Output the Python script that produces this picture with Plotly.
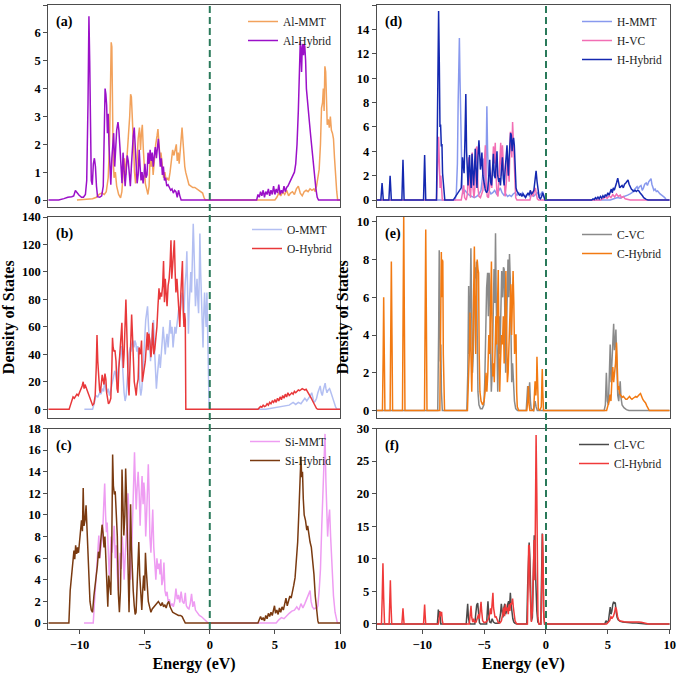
import plotly.graph_objects as go

# ---------------- data (energy eV, DOS) ----------------
AL_MMT = [(-10.2,0),(-9.5,0.02),(-9.0,0.05),(-8.7,0.1),(-8.5,0.2),(-8.3,0.25),(-8.1,0.2),(-7.95,0.3),(-7.8,0.8),(-7.7,2.0),(-7.62,5.0),(-7.57,5.66),(-7.52,5.5),(-7.47,3.0),(-7.42,1.5),(-7.35,0.8),(-7.25,1.0),(-7.15,0.5),(-7.0,0.2),(-6.85,0.08),(-6.75,0.3),(-6.65,1.0),(-6.55,1.5),(-6.45,0.9),(-6.35,1.8),(-6.25,2.3),(-6.15,3.0),(-6.08,3.8),(-6.02,3.7),(-5.96,3.2),(-5.9,2.5),(-5.84,1.8),(-5.78,1.0),(-5.7,0.6),(-5.6,1.2),(-5.5,2.2),(-5.4,2.6),(-5.32,1.8),(-5.25,2.4),(-5.18,2.7),(-5.1,1.8),(-5.02,1.0),(-4.95,0.6),(-4.85,0.4),(-4.75,0.2),(-4.66,0.5),(-4.58,1.6),(-4.5,1.2),(-4.42,1.5),(-4.35,0.9),(-4.25,1.6),(-4.15,2.0),(-4.05,2.3),(-3.98,2.55),(-3.9,2.0),(-3.82,1.5),(-3.75,1.7),(-3.65,1.2),(-3.55,0.8),(-3.45,1.0),(-3.35,0.7),(-3.25,0.8),(-3.15,0.7),(-3.05,1.0),(-2.95,1.4),(-2.85,1.8),(-2.75,1.6),(-2.65,1.9),(-2.57,2.0),(-2.5,1.4),(-2.42,1.7),(-2.35,1.3),(-2.25,2.0),(-2.18,2.4),(-2.13,2.6),(-2.07,2.2),(-2.0,1.5),(-1.92,1.2),(-1.85,1.0),(-1.75,0.8),(-1.6,0.55),(-1.45,0.5),(-1.3,0.45),(-1.15,0.45),(-1.0,0.4),(-0.85,0.35),(-0.7,0.3),(-0.55,0.25),(-0.45,0.1),(-0.35,0.0),(5.0,0.0),(5.15,0.1),(5.3,0.25),(5.45,0.15),(5.6,0.3),(5.75,0.2),(5.9,0.35),(6.05,0.15),(6.2,0.25),(6.35,0.3),(6.5,0.2),(6.65,0.4),(6.8,0.5),(6.95,0.25),(7.1,0.15),(7.25,0.3),(7.4,0.35),(7.55,0.3),(7.7,0.4),(7.85,0.35),(8.0,0.4),(8.1,0.3),(8.2,0.5),(8.3,0.9),(8.4,1.1),(8.5,2.0),(8.58,3.3),(8.66,3.5),(8.72,4.0),(8.78,3.2),(8.84,4.8),(8.9,4.6),(8.96,3.3),(9.02,2.7),(9.1,2.9),(9.18,2.6),(9.26,3.0),(9.34,2.5),(9.42,2.4),(9.5,2.2),(9.58,1.5),(9.66,0.8),(9.75,0.3),(9.82,0.0),(10,0)]

AL_HYBRID = [(-12.4,0),(-11.6,0),(-11.2,0.05),(-10.9,0.1),(-10.6,0.12),(-10.45,0.15),(-10.32,0.34),(-10.2,0.25),(-10.05,0.18),(-9.85,0.1),(-9.7,0.1),(-9.55,0.2),(-9.45,0.7),(-9.35,3.5),(-9.28,6.6),(-9.22,5.0),(-9.16,1.5),(-9.1,0.7),(-9.02,0.55),(-8.94,1.3),(-8.86,1.5),(-8.78,1.2),(-8.7,0.5),(-8.62,0.12),(-8.45,0.1),(-8.3,0.15),(-8.18,0.5),(-8.1,2.5),(-8.04,4.0),(-7.98,3.8),(-7.92,3.4),(-7.86,2.4),(-7.8,3.1),(-7.74,2.0),(-7.68,1.2),(-7.6,0.55),(-7.52,1.5),(-7.45,2.2),(-7.38,2.4),(-7.3,1.2),(-7.22,2.0),(-7.15,2.5),(-7.05,2.8),(-6.98,2.5),(-6.9,1.9),(-6.82,1.0),(-6.74,0.6),(-6.66,1.7),(-6.58,1.2),(-6.5,0.5),(-6.42,1.0),(-6.34,1.6),(-6.26,1.4),(-6.18,0.7),(-6.1,0.5),(-6.02,1.2),(-5.95,2.0),(-5.88,2.3),(-5.8,2.6),(-5.72,2.0),(-5.65,1.4),(-5.58,0.6),(-5.5,0.9),(-5.42,1.8),(-5.35,1.2),(-5.28,0.7),(-5.2,1.0),(-5.12,0.6),(-5.05,0.9),(-4.98,1.3),(-4.9,0.8),(-4.82,0.9),(-4.74,1.7),(-4.66,1.3),(-4.58,1.8),(-4.5,1.4),(-4.42,1.7),(-4.34,1.2),(-4.26,1.6),(-4.18,1.9),(-4.1,1.5),(-4.02,2.0),(-3.95,2.2),(-3.88,1.8),(-3.8,1.2),(-3.72,1.5),(-3.64,0.9),(-3.56,1.2),(-3.48,0.7),(-3.4,0.8),(-3.3,0.5),(-3.2,0.55),(-3.1,0.45),(-3.0,0.35),(-2.9,0.4),(-2.8,0.25),(-2.7,0.35),(-2.6,0.3),(-2.5,0.1),(-2.4,0.35),(-2.3,0.15),(-2.2,0.0),(3.6,0.0),(3.7,0.2),(3.8,0.1),(3.9,0.3),(4.0,0.15),(4.1,0.35),(4.2,0.1),(4.3,0.3),(4.4,0.2),(4.5,0.4),(4.6,0.15),(4.7,0.35),(4.8,0.2),(4.9,0.5),(5.0,0.2),(5.1,0.4),(5.2,0.25),(5.3,0.55),(5.4,0.2),(5.5,0.35),(5.6,0.25),(5.7,0.5),(5.8,0.3),(5.9,0.45),(6.0,0.5),(6.1,0.6),(6.2,0.7),(6.3,0.8),(6.4,0.85),(6.5,1.0),(6.6,1.3),(6.7,2.0),(6.8,3.2),(6.88,4.2),(6.95,5.7),(7.0,5.3),(7.05,4.6),(7.1,5.5),(7.15,5.6),(7.2,5.2),(7.25,5.6),(7.3,5.5),(7.36,5.0),(7.42,4.0),(7.5,3.5),(7.58,3.3),(7.65,2.8),(7.75,2.3),(7.85,1.8),(7.95,1.2),(8.05,0.8),(8.15,0.4),(8.25,0.1),(8.35,0.0),(10,0)]

O_MMT = [(-9.63,0),(-9.0,0),(-8.85,5),(-8.75,10),(-8.6,9),(-8.45,12),(-8.35,11),(-8.25,15),(-8.15,13),(-8.08,20),(-8.0,16),(-7.9,12),(-7.8,15),(-7.7,10),(-7.6,14),(-7.5,18),(-7.4,22),(-7.3,28),(-7.22,25),(-7.15,20),(-7.05,28),(-6.95,35),(-6.88,40),(-6.8,46),(-6.72,35),(-6.65,20),(-6.58,12),(-6.5,6),(-6.42,10),(-6.35,20),(-6.28,32),(-6.2,40),(-6.12,45),(-6.05,42),(-5.98,48),(-5.9,50),(-5.82,45),(-5.75,50),(-5.68,48),(-5.6,42),(-5.52,46),(-5.45,30),(-5.38,18),(-5.3,10),(-5.22,15),(-5.15,25),(-5.08,40),(-5.0,55),(-4.92,65),(-4.85,70),(-4.78,75),(-4.7,60),(-4.62,45),(-4.55,35),(-4.48,50),(-4.4,60),(-4.32,65),(-4.25,45),(-4.18,25),(-4.1,15),(-4.02,25),(-3.95,35),(-3.88,40),(-3.8,30),(-3.72,38),(-3.65,50),(-3.58,60),(-3.5,45),(-3.42,40),(-3.35,50),(-3.28,55),(-3.2,45),(-3.12,55),(-3.05,65),(-2.98,55),(-2.9,60),(-2.82,45),(-2.75,55),(-2.68,60),(-2.6,55),(-2.52,62),(-2.44,70),(-2.36,75),(-2.28,70),(-2.2,80),(-2.12,85),(-2.05,80),(-1.98,70),(-1.9,90),(-1.82,100),(-1.76,115),(-1.7,90),(-1.64,55),(-1.58,75),(-1.52,95),(-1.46,100),(-1.4,85),(-1.34,110),(-1.27,135),(-1.22,120),(-1.16,90),(-1.1,75),(-1.04,85),(-0.98,95),(-0.92,80),(-0.86,70),(-0.8,100),(-0.76,128),(-0.7,100),(-0.64,80),(-0.58,60),(-0.52,45),(-0.46,70),(-0.4,85),(-0.34,70),(-0.28,60),(-0.22,85),(-0.16,60),(-0.1,45),(-0.05,0),(4.3,0),(4.6,0.5),(5.0,1),(5.4,1.5),(5.8,2),(6.1,3),(6.4,5),(6.6,3.5),(6.8,5),(7.0,4),(7.15,6),(7.3,8),(7.45,6),(7.6,8),(7.72,10),(7.83,12),(7.92,8),(8.0,5),(8.1,6),(8.2,8),(8.3,12),(8.4,15),(8.48,17),(8.56,12),(8.64,10),(8.72,14),(8.8,17),(8.86,19),(8.92,15),(9.0,12),(9.1,14),(9.2,15),(9.28,13),(9.36,10),(9.45,8),(9.55,5),(9.65,2),(9.76,0),(10,0)]

O_HYBRID = [(-12.4,0),(-10.8,0),(-10.7,3),(-10.6,7),(-10.5,9),(-10.4,8),(-10.3,10),(-10.2,11),(-10.1,10),(-10.0,12),(-9.9,14),(-9.8,17),(-9.72,20),(-9.65,15),(-9.58,18),(-9.5,16),(-9.4,12),(-9.3,10),(-9.2,7),(-9.1,5),(-9.0,3),(-8.9,4),(-8.8,10),(-8.72,30),(-8.66,54),(-8.6,35),(-8.54,20),(-8.46,14),(-8.4,12),(-8.32,20),(-8.26,25),(-8.2,22),(-8.12,18),(-8.05,26),(-7.98,22),(-7.92,12),(-7.85,6),(-7.78,4),(-7.7,5),(-7.6,8),(-7.52,30),(-7.47,52),(-7.42,45),(-7.35,42),(-7.28,43),(-7.2,35),(-7.12,15),(-7.05,12),(-6.98,30),(-6.9,45),(-6.82,55),(-6.75,63),(-6.7,45),(-6.64,30),(-6.58,40),(-6.5,65),(-6.44,80),(-6.38,60),(-6.32,25),(-6.26,18),(-6.2,10),(-6.14,25),(-6.06,45),(-6.0,69),(-5.94,55),(-5.88,30),(-5.8,20),(-5.72,15),(-5.65,10),(-5.58,18),(-5.5,22),(-5.43,45),(-5.36,40),(-5.3,42),(-5.24,50),(-5.18,20),(-5.1,25),(-5.02,30),(-4.95,35),(-4.88,45),(-4.8,56),(-4.74,43),(-4.68,55),(-4.6,50),(-4.52,38),(-4.45,45),(-4.38,63),(-4.3,40),(-4.22,44),(-4.14,52),(-4.06,60),(-3.98,75),(-3.9,88),(-3.84,80),(-3.78,85),(-3.7,82),(-3.62,90),(-3.55,108),(-3.48,78),(-3.42,95),(-3.35,85),(-3.28,75),(-3.2,90),(-3.12,95),(-3.05,105),(-2.98,123),(-2.92,95),(-2.85,105),(-2.78,110),(-2.72,123),(-2.66,100),(-2.6,85),(-2.52,95),(-2.45,80),(-2.38,70),(-2.3,60),(-2.22,85),(-2.15,100),(-2.1,108),(-2.04,72),(-1.98,60),(-1.93,70),(-1.88,65),(-1.84,0),(3.7,0),(3.8,1),(3.9,2),(4.0,1.5),(4.1,3),(4.2,2),(4.3,2.5),(4.4,4),(4.5,3),(4.6,5),(4.7,4),(4.8,6),(4.9,5),(5.0,7),(5.1,5),(5.2,8),(5.3,6),(5.4,9),(5.5,7),(5.6,10),(5.7,8),(5.8,11),(5.9,9),(6.0,12),(6.1,10),(6.2,11),(6.3,12),(6.4,11),(6.5,13),(6.6,12),(6.7,13.5),(6.8,14),(6.9,13.5),(7.0,14.5),(7.1,15),(7.2,14.5),(7.3,14),(7.4,14.5),(7.5,13),(7.6,12),(7.7,10),(7.8,8),(7.9,6),(8.0,4),(8.1,2),(8.2,0.5),(8.3,0),(10,0)]

SI_MMT = [(-9.66,0),(-8.95,0),(-8.85,2.0),(-8.75,4.0),(-8.68,5.5),(-8.6,6.5),(-8.52,8.1),(-8.45,6.0),(-8.38,7.0),(-8.3,7.6),(-8.22,8.5),(-8.14,11.0),(-8.07,12.9),(-8.0,10.0),(-7.94,8.4),(-7.88,9.3),(-7.8,6.0),(-7.72,4.4),(-7.65,6.0),(-7.58,8.0),(-7.5,6.5),(-7.42,7.5),(-7.34,9.0),(-7.26,6.0),(-7.18,7.2),(-7.1,4.5),(-7.02,3.0),(-6.95,5.5),(-6.88,6.5),(-6.8,5.0),(-6.72,8.0),(-6.65,6.5),(-6.58,4.0),(-6.5,6.0),(-6.42,7.5),(-6.35,9.5),(-6.28,12.0),(-6.22,10.5),(-6.15,6.0),(-6.08,4.0),(-6.0,6.5),(-5.92,10.0),(-5.85,13.0),(-5.78,15.8),(-5.72,13.0),(-5.65,10.5),(-5.58,12.5),(-5.5,14.0),(-5.42,12.0),(-5.35,9.0),(-5.28,11.5),(-5.2,13.6),(-5.12,11.0),(-5.06,13.0),(-5.0,12.0),(-4.92,8.0),(-4.85,10.0),(-4.78,12.5),(-4.72,14.7),(-4.66,12.0),(-4.6,8.0),(-4.52,6.5),(-4.45,8.0),(-4.38,10.5),(-4.3,7.0),(-4.22,5.0),(-4.14,4.0),(-4.06,6.0),(-3.98,5.0),(-3.9,5.5),(-3.82,4.5),(-3.76,5.9),(-3.68,3.5),(-3.6,4.0),(-3.52,5.6),(-3.44,3.0),(-3.36,2.5),(-3.28,2.9),(-3.2,2.0),(-3.1,2.2),(-3.0,1.6),(-2.9,1.8),(-2.8,1.5),(-2.7,2.0),(-2.6,3.2),(-2.5,2.2),(-2.4,2.6),(-2.3,1.9),(-2.2,2.9),(-2.1,2.0),(-1.98,1.8),(-1.88,2.8),(-1.8,1.6),(-1.7,1.4),(-1.6,1.3),(-1.5,1.8),(-1.4,2.7),(-1.3,1.5),(-1.2,2.0),(-1.1,1.2),(-1.0,1.0),(-0.9,0.9),(-0.8,0.7),(-0.65,0.6),(-0.5,0.4),(-0.35,0.25),(-0.2,0.1),(-0.1,0.0),(5.1,0),(5.3,0.3),(5.5,0.5),(5.7,0.4),(5.9,0.7),(6.1,0.9),(6.3,1.1),(6.5,1.2),(6.68,1.5),(6.85,1.2),(7.0,1.8),(7.15,1.4),(7.3,1.8),(7.45,2.2),(7.6,2.6),(7.7,3.0),(7.78,2.0),(7.88,1.5),(8.0,1.3),(8.1,1.4),(8.2,1.3),(8.3,1.6),(8.4,3.0),(8.5,5.0),(8.6,9.0),(8.7,12.0),(8.78,14.5),(8.85,17.5),(8.92,13.0),(8.98,9.0),(9.05,8.0),(9.12,9.5),(9.2,10.5),(9.28,8.0),(9.38,5.0),(9.5,2.5),(9.62,1.0),(9.72,0.2),(9.8,0),(10,0)]

SI_HYBRID = [(-12.4,0),(-10.82,0),(-10.72,3.0),(-10.63,4.3),(-10.55,4.7),(-10.48,5.8),(-10.43,6.7),(-10.37,5.9),(-10.3,7.2),(-10.22,6.4),(-10.15,7.0),(-10.08,6.5),(-10.0,7.6),(-9.92,8.2),(-9.85,9.5),(-9.78,8.5),(-9.72,12.5),(-9.66,9.0),(-9.58,9.5),(-9.5,10.9),(-9.44,9.0),(-9.36,6.0),(-9.28,3.5),(-9.2,2.0),(-9.1,1.2),(-9.0,1.0),(-8.9,2.5),(-8.82,3.2),(-8.72,4.5),(-8.63,5.3),(-8.55,6.6),(-8.47,6.0),(-8.4,7.2),(-8.33,8.0),(-8.27,9.1),(-8.2,8.4),(-8.12,7.0),(-8.05,8.0),(-7.98,5.9),(-7.9,3.0),(-7.83,1.5),(-7.76,4.4),(-7.68,3.5),(-7.6,2.6),(-7.52,8.0),(-7.46,15.6),(-7.4,12.7),(-7.33,11.9),(-7.26,12.2),(-7.18,10.2),(-7.1,8.0),(-7.02,2.7),(-6.94,1.0),(-6.86,3.0),(-6.8,6.6),(-6.74,14.2),(-6.68,10.0),(-6.6,8.1),(-6.52,10.0),(-6.46,14.3),(-6.4,12.0),(-6.34,7.8),(-6.27,3.0),(-6.2,1.0),(-6.14,5.0),(-6.08,11.0),(-6.02,7.2),(-5.95,4.0),(-5.88,3.0),(-5.8,1.6),(-5.73,0.8),(-5.66,1.0),(-5.6,3.0),(-5.52,6.0),(-5.45,7.5),(-5.38,4.5),(-5.3,2.5),(-5.22,1.2),(-5.15,3.0),(-5.08,4.4),(-5.0,3.0),(-4.94,6.5),(-4.88,5.0),(-4.8,2.8),(-4.72,2.0),(-4.62,1.5),(-4.52,1.0),(-4.42,1.3),(-4.3,1.5),(-4.18,1.6),(-4.05,1.8),(-3.95,2.0),(-3.85,1.8),(-3.75,1.6),(-3.65,1.9),(-3.55,1.5),(-3.45,1.7),(-3.35,1.4),(-3.25,1.8),(-3.15,2.0),(-3.05,1.5),(-2.95,1.2),(-2.85,1.0),(-2.7,0.9),(-2.55,0.8),(-2.4,0.7),(-2.25,0.7),(-2.12,0.6),(-2.0,0.3),(-1.88,0.0),(3.7,0),(3.8,0.3),(3.9,0.6),(4.0,0.3),(4.1,0.5),(4.2,0.2),(4.3,0.7),(4.4,0.4),(4.5,0.9),(4.6,0.6),(4.7,1.0),(4.8,0.7),(4.9,1.2),(4.97,1.6),(5.05,0.9),(5.15,1.2),(5.25,0.8),(5.35,1.4),(5.45,1.0),(5.55,1.5),(5.65,1.2),(5.75,1.8),(5.85,2.3),(5.95,1.6),(6.05,2.0),(6.15,2.5),(6.25,2.3),(6.35,2.8),(6.45,3.5),(6.55,4.2),(6.65,5.5),(6.75,7.5),(6.85,10.5),(6.93,13.5),(7.0,15.4),(7.06,13.5),(7.12,14.0),(7.18,11.5),(7.25,10.0),(7.35,9.5),(7.45,8.6),(7.52,9.0),(7.6,8.2),(7.7,7.5),(7.8,7.0),(7.9,6.0),(8.0,4.5),(8.1,2.5),(8.2,1.0),(8.3,0.2),(8.35,0),(10,0)]

H_MMT = [(-13.66,0),(-7.35,0),(-7.25,0.5),(-7.16,3.0),(-7.1,8.0),(-7.05,12.4),(-7.0,13.3),(-6.95,10.0),(-6.9,6.9),(-6.84,3.3),(-6.78,1.0),(-6.7,0.5),(-6.55,0.8),(-6.4,0.6),(-6.2,0.4),(-6.0,0.3),(-5.8,0.2),(-5.6,0.3),(-5.4,0.5),(-5.25,0.8),(-5.12,2.0),(-5.04,3.4),(-4.98,2.0),(-4.9,1.0),(-4.84,3.0),(-4.78,7.7),(-4.72,4.0),(-4.66,1.5),(-4.6,0.8),(-4.45,0.5),(-4.3,0.6),(-4.15,0.8),(-4.0,0.5),(-3.85,0.7),(-3.7,1.0),(-3.55,0.6),(-3.4,0.4),(-3.25,0.5),(-3.1,0.3),(-2.95,0.4),(-2.8,0.3),(-2.65,0.5),(-2.5,0.6),(-2.35,0.4),(-2.2,0.6),(-2.05,0.4),(-1.9,0.6),(-1.75,0.3),(-1.6,0.4),(-1.45,0.5),(-1.3,0.3),(-1.15,0.4),(-1.0,0.3),(-0.85,0.5),(-0.7,0.6),(-0.55,0.3),(-0.4,0.5),(-0.28,0.7),(-0.18,0.4),(-0.08,0),(5.2,0),(5.4,0.1),(5.6,0.15),(5.8,0.2),(6.0,0.15),(6.2,0.25),(6.4,0.3),(6.6,0.4),(6.8,0.5),(6.95,0.6),(7.1,0.8),(7.25,1.0),(7.36,1.1),(7.45,0.9),(7.55,1.1),(7.68,1.2),(7.78,0.8),(7.88,1.0),(7.98,1.3),(8.1,1.4),(8.2,1.2),(8.3,1.5),(8.4,1.6),(8.49,1.75),(8.56,1.3),(8.64,1.0),(8.72,0.8),(8.82,0.9),(8.92,0.7),(9.02,0.75),(9.12,0.6),(9.22,0.5),(9.35,0.4),(9.48,0.3),(9.6,0.2),(9.7,0.05),(9.8,0),(10,0)]

H_VC = [(-13.66,0),(-8.85,0),(-8.75,3.0),(-8.68,5.2),(-8.62,3.0),(-8.56,1.0),(-8.5,2.0),(-8.44,0.5),(-8.38,0),(-6.85,0),(-6.75,0.5),(-6.65,1.2),(-6.58,0.2),(-6.45,0),(-6.35,0.5),(-6.25,3.5),(-6.18,1.0),(-6.1,0.2),(-6.02,2.0),(-5.96,3.9),(-5.9,1.0),(-5.82,0.2),(-5.75,1.0),(-5.66,4.2),(-5.58,4.4),(-5.5,1.0),(-5.42,0.3),(-5.3,0.2),(-5.2,0.5),(-5.1,0.8),(-5.02,2.5),(-4.95,4.4),(-4.9,4.5),(-4.84,1.5),(-4.75,0.3),(-4.65,0.2),(-4.55,1.0),(-4.45,2.0),(-4.38,1.0),(-4.3,2.5),(-4.25,4.4),(-4.18,3.0),(-4.1,4.7),(-4.04,2.0),(-3.96,0.5),(-3.88,0.3),(-3.8,2.5),(-3.72,4.6),(-3.66,4.7),(-3.6,2.0),(-3.52,4.5),(-3.45,3.0),(-3.38,1.0),(-3.3,0.3),(-3.2,1.5),(-3.12,3.5),(-3.05,2.5),(-2.98,1.5),(-2.92,4.0),(-2.88,5.6),(-2.82,5.2),(-2.76,3.5),(-2.7,6.4),(-2.64,5.0),(-2.58,3.0),(-2.52,1.0),(-2.45,0.2),(-2.35,0.0),(-1.3,0),(-1.2,0.4),(-1.12,0.7),(-1.05,0.3),(-0.95,0.6),(-0.86,1.0),(-0.78,0.5),(-0.7,0.1),(-0.6,0),(4.4,0),(4.6,0.1),(4.8,0.25),(4.95,0.15),(5.1,0.35),(5.25,0.2),(5.4,0.45),(5.55,0.25),(5.7,0.5),(5.85,0.3),(6.0,0.4),(6.1,0.2),(6.25,0.3),(6.4,0.1),(6.6,0.05),(6.8,0),(10,0)]

H_HYBRID = [(-13.66,0),(-13.35,0),(-13.25,1.4),(-13.15,0),(-12.7,0),(-12.6,2.0),(-12.5,0),(-11.65,0),(-11.56,3.3),(-11.47,0),(-9.9,0),(-9.81,3.7),(-9.72,0),(-8.85,0),(-8.78,6.0),(-8.68,15.5),(-8.62,11.0),(-8.57,6.0),(-8.52,6.2),(-8.46,4.4),(-8.41,4.6),(-8.36,2.2),(-8.3,1.6),(-8.25,0.5),(-8.18,0),(-7.5,0),(-7.3,0.3),(-7.1,0.6),(-6.95,0.8),(-6.85,1.0),(-6.75,3.5),(-6.68,2.5),(-6.62,2.2),(-6.55,5.0),(-6.48,8.7),(-6.42,4.0),(-6.36,2.5),(-6.3,1.2),(-6.25,2.5),(-6.18,3.7),(-6.12,2.0),(-6.05,1.0),(-5.98,3.8),(-5.92,2.0),(-5.85,1.2),(-5.78,2.5),(-5.72,4.2),(-5.65,2.5),(-5.58,1.0),(-5.5,3.5),(-5.42,4.9),(-5.36,3.8),(-5.3,2.5),(-5.24,3.0),(-5.18,3.9),(-5.1,2.0),(-5.0,1.2),(-4.9,0.8),(-4.8,0.6),(-4.72,0.8),(-4.62,2.0),(-4.55,3.3),(-4.48,1.5),(-4.4,1.2),(-4.32,2.5),(-4.25,3.8),(-4.18,2.0),(-4.1,1.8),(-4.03,3.0),(-3.96,4.0),(-3.9,2.0),(-3.82,1.5),(-3.75,1.8),(-3.68,1.2),(-3.6,2.5),(-3.52,3.5),(-3.45,1.8),(-3.38,1.2),(-3.3,2.5),(-3.22,3.8),(-3.15,4.5),(-3.1,3.0),(-3.04,2.0),(-2.98,3.5),(-2.92,4.5),(-2.86,5.5),(-2.8,5.3),(-2.74,4.0),(-2.68,4.8),(-2.62,5.1),(-2.56,4.5),(-2.5,2.0),(-2.42,1.0),(-2.34,0.7),(-2.25,0.6),(-2.15,0.4),(-2.05,0.5),(-1.95,0.3),(-1.85,0.5),(-1.75,0.3),(-1.65,0.2),(-1.55,0.4),(-1.45,0.6),(-1.35,0.4),(-1.27,0.8),(-1.18,0.5),(-1.08,0.6),(-0.98,0.8),(-0.88,1.5),(-0.8,2.4),(-0.72,1.5),(-0.65,0.8),(-0.55,0.2),(-0.45,0.1),(-0.35,0.3),(-0.27,0.6),(-0.18,0.3),(-0.08,0),(3.7,0),(3.8,0.1),(3.9,0.05),(4.0,0.2),(4.1,0.1),(4.2,0.25),(4.3,0.1),(4.4,0.3),(4.5,0.15),(4.6,0.35),(4.7,0.2),(4.8,0.45),(4.9,0.3),(5.0,0.6),(5.1,0.4),(5.2,0.8),(5.28,0.9),(5.36,0.6),(5.44,1.0),(5.52,0.8),(5.6,1.2),(5.7,1.4),(5.8,1.8),(5.88,1.2),(5.96,1.0),(6.05,1.1),(6.15,1.2),(6.25,1.0),(6.35,1.3),(6.45,1.4),(6.55,1.5),(6.63,1.65),(6.72,1.3),(6.8,1.1),(6.9,0.9),(7.0,0.8),(7.1,0.7),(7.2,0.8),(7.3,0.7),(7.4,0.8),(7.5,0.75),(7.6,0.6),(7.7,0.5),(7.8,0.35),(7.9,0.2),(8.0,0.1),(8.1,0.05),(8.25,0),(10,0)]

C_VC = [(-13.66,0),(-8.75,0),(-8.68,4.0),(-8.63,8.5),(-8.58,5.0),(-8.54,2.6),(-8.5,3.5),(-8.45,1.0),(-8.38,0),(-6.4,0),(-6.32,2.0),(-6.25,6.6),(-6.2,3.0),(-6.14,5.0),(-6.07,8.6),(-6.0,5.0),(-5.94,2.0),(-5.88,3.0),(-5.8,6.0),(-5.73,7.6),(-5.68,7.0),(-5.62,7.9),(-5.56,4.0),(-5.5,1.0),(-5.42,0.3),(-5.3,0.1),(-5.15,0.1),(-5.02,0.3),(-4.95,1.5),(-4.88,4.0),(-4.8,6.5),(-4.72,7.3),(-4.66,5.0),(-4.6,7.3),(-4.54,6.6),(-4.48,3.0),(-4.42,1.0),(-4.35,2.0),(-4.28,5.5),(-4.2,7.5),(-4.14,5.7),(-4.08,9.4),(-4.02,5.7),(-3.96,2.5),(-3.9,1.0),(-3.84,3.0),(-3.78,5.0),(-3.72,3.0),(-3.65,5.5),(-3.58,7.4),(-3.5,6.0),(-3.44,7.6),(-3.38,7.5),(-3.32,4.0),(-3.26,2.0),(-3.2,4.0),(-3.13,7.0),(-3.07,8.0),(-3.01,6.0),(-2.95,8.3),(-2.89,7.0),(-2.83,3.0),(-2.77,1.5),(-2.7,2.5),(-2.62,1.5),(-2.55,0.5),(-2.45,0.1),(-2.3,0),(-1.6,0),(-1.55,0.8),(-1.48,1.3),(-1.42,0.5),(-1.38,1.45),(-1.32,1.5),(-1.26,0.5),(-1.2,0.1),(-1.0,0.0),(-0.95,0.3),(-0.88,0.5),(-0.8,0.2),(-0.7,0),(4.7,0),(4.8,0.3),(4.88,2.0),(4.96,0.5),(5.05,0.3),(5.12,1.5),(5.19,3.5),(5.26,1.5),(5.33,2.5),(5.4,4.0),(5.47,4.6),(5.53,3.2),(5.59,3.5),(5.65,4.3),(5.72,2.0),(5.8,0.8),(5.88,0.5),(5.95,1.0),(6.0,1.55),(6.06,0.7),(6.15,0.3),(6.3,0.15),(6.5,0.05),(6.7,0),(10,0)]

C_HYBRID = [(-13.66,0),(-13.22,0),(-13.16,3.0),(-13.12,6.0),(-13.07,3.0),(-13.02,0),(-12.6,0),(-12.55,4.0),(-12.5,7.9),(-12.45,4.0),(-12.4,0),(-11.6,0),(-11.55,5.0),(-11.5,10.4),(-11.45,5.0),(-11.4,0),(-9.82,0),(-9.77,5.0),(-9.72,9.6),(-9.67,5.0),(-9.62,0),(-8.58,0),(-8.52,4.0),(-8.46,8.4),(-8.42,6.0),(-8.38,8.0),(-8.34,7.9),(-8.3,3.0),(-8.25,0.5),(-8.2,0),(-6.35,0),(-6.28,1.0),(-6.2,3.0),(-6.14,5.2),(-6.08,2.5),(-6.0,1.0),(-5.9,4.0),(-5.84,7.0),(-5.79,8.7),(-5.74,6.0),(-5.68,3.0),(-5.62,6.0),(-5.56,8.0),(-5.5,7.5),(-5.45,7.3),(-5.4,3.0),(-5.34,1.0),(-5.25,0.5),(-5.12,0.3),(-5.0,0.5),(-4.92,1.0),(-4.85,2.0),(-4.78,1.0),(-4.7,2.0),(-4.62,4.0),(-4.55,3.0),(-4.47,6.0),(-4.41,7.9),(-4.35,4.0),(-4.3,1.8),(-4.24,2.5),(-4.18,1.5),(-4.12,3.0),(-4.05,5.0),(-3.98,3.5),(-3.92,5.5),(-3.86,7.45),(-3.8,3.0),(-3.74,1.0),(-3.68,2.5),(-3.6,4.0),(-3.52,3.5),(-3.45,5.0),(-3.38,2.5),(-3.3,5.5),(-3.24,7.4),(-3.18,4.0),(-3.12,1.5),(-3.06,2.0),(-2.98,3.5),(-2.9,5.0),(-2.84,6.7),(-2.78,4.0),(-2.72,5.5),(-2.66,7.4),(-2.6,5.7),(-2.54,3.0),(-2.48,4.0),(-2.42,4.0),(-2.37,1.0),(-2.32,0.2),(-2.2,0),(-1.55,0),(-1.48,0.5),(-1.42,1.3),(-1.36,0.3),(-1.3,0),(-1.0,0),(-0.94,0.8),(-0.88,1.55),(-0.82,0.8),(-0.76,1.5),(-0.73,2.85),(-0.68,1.0),(-0.62,0.1),(-0.5,0),(-0.38,0.2),(-0.33,1.5),(-0.3,2.2),(-0.26,1.0),(-0.2,0),(4.9,0),(5.0,0.2),(5.1,0.5),(5.17,0.85),(5.25,0.5),(5.32,1.5),(5.4,2.3),(5.47,1.5),(5.55,2.0),(5.62,2.5),(5.7,3.6),(5.76,2.5),(5.82,1.1),(5.88,1.3),(5.95,0.9),(6.05,0.8),(6.15,0.7),(6.25,0.75),(6.35,0.65),(6.45,0.6),(6.55,0.6),(6.65,0.7),(6.75,0.75),(6.85,0.65),(6.95,0.6),(7.05,0.65),(7.15,0.7),(7.25,0.75),(7.35,0.7),(7.45,0.8),(7.55,0.85),(7.64,0.9),(7.72,0.75),(7.82,0.6),(7.92,0.5),(8.05,0.4),(8.15,0.25),(8.25,0.1),(8.35,0),(10,0)]

CL_VC = [(-13.66,0),(-8.78,0),(-8.7,2.2),(-8.65,1.0),(-8.6,2.0),(-8.55,0.5),(-8.5,0),(-6.45,0),(-6.38,1.5),(-6.33,3.1),(-6.27,1.0),(-6.2,0.2),(-6.1,0),(-5.75,0),(-5.68,1.5),(-5.6,2.9),(-5.52,3.2),(-5.45,1.0),(-5.38,0.2),(-5.3,0),(-4.8,0),(-4.74,2.0),(-4.69,3.5),(-4.63,1.5),(-4.55,0.3),(-4.45,0.2),(-4.35,0.8),(-4.25,0.3),(-4.1,0.1),(-3.8,0.1),(-3.68,1.5),(-3.61,3.1),(-3.55,2.0),(-3.48,1.0),(-3.4,2.5),(-3.33,3.1),(-3.26,1.5),(-3.18,2.0),(-3.1,3.0),(-3.02,3.5),(-2.95,2.5),(-2.88,4.8),(-2.82,3.0),(-2.75,1.5),(-2.68,0.8),(-2.6,0.3),(-2.5,0.1),(-2.35,0),(-1.55,0),(-1.48,6.0),(-1.42,12.3),(-1.36,12.5),(-1.3,10.0),(-1.25,3.0),(-1.18,0.5),(-1.1,1.0),(-1.02,6.0),(-0.95,13.6),(-0.9,13.0),(-0.85,8.0),(-0.8,5.0),(-0.74,2.0),(-0.66,0.3),(-0.55,0),(-0.42,0),(-0.35,6.0),(-0.3,13.9),(-0.25,10.0),(-0.2,2.0),(-0.12,0),(4.75,0),(4.85,0.5),(4.95,0.2),(5.05,0.5),(5.12,1.5),(5.19,2.6),(5.26,1.5),(5.33,2.0),(5.4,3.0),(5.47,3.4),(5.53,3.2),(5.6,3.3),(5.66,2.0),(5.75,1.0),(5.85,0.6),(6.0,0.4),(6.2,0.3),(6.4,0.25),(6.6,0.2),(6.8,0.2),(7.0,0.15),(7.3,0.15),(7.6,0.1),(7.9,0.05),(8.1,0),(10,0)]

CL_HYBRID = [(-13.66,0),(-13.3,0),(-13.24,4.0),(-13.18,9.3),(-13.12,4.0),(-13.05,0),(-12.68,0),(-12.63,3.0),(-12.58,6.7),(-12.53,3.0),(-12.47,0),(-11.65,0),(-11.6,1.2),(-11.56,2.4),(-11.52,1.2),(-11.47,0),(-9.9,0),(-9.85,1.5),(-9.81,3.0),(-9.77,1.5),(-9.72,0),(-8.7,0),(-8.62,1.0),(-8.56,1.9),(-8.5,1.2),(-8.44,1.85),(-8.38,0.5),(-8.32,0),(-6.2,0),(-6.12,1.5),(-6.06,2.8),(-6.0,1.0),(-5.92,0.3),(-5.84,0.8),(-5.78,0.3),(-5.65,0.3),(-5.55,1.0),(-5.45,1.5),(-5.38,0.8),(-5.3,2.0),(-5.25,3.4),(-5.2,2.0),(-5.12,0.5),(-5.0,0.2),(-4.85,0.3),(-4.75,0.5),(-4.65,0.8),(-4.55,1.5),(-4.48,2.4),(-4.42,1.5),(-4.35,3.0),(-4.29,4.8),(-4.24,2.5),(-4.18,1.5),(-4.12,1.0),(-4.05,1.2),(-3.95,0.5),(-3.85,0.2),(-3.7,0.2),(-3.6,0.5),(-3.5,1.5),(-3.42,2.5),(-3.35,1.2),(-3.28,3.0),(-3.2,2.0),(-3.12,2.5),(-3.05,1.5),(-2.98,3.0),(-2.92,2.0),(-2.85,3.2),(-2.78,3.0),(-2.7,3.9),(-2.64,2.6),(-2.58,1.5),(-2.5,0.5),(-2.4,0.1),(-2.3,0),(-1.5,0),(-1.45,5.0),(-1.4,12.1),(-1.35,12.0),(-1.3,6.0),(-1.24,1.0),(-1.18,0.3),(-1.1,2.0),(-1.02,8.0),(-0.96,12.9),(-0.9,6.7),(-0.85,15.0),(-0.8,29.0),(-0.74,20.0),(-0.7,7.0),(-0.65,1.0),(-0.58,0),(-0.4,0),(-0.34,6.0),(-0.28,13.8),(-0.22,8.0),(-0.17,1.0),(-0.1,0),(4.9,0),(5.05,0.3),(5.15,0.5),(5.25,1.1),(5.35,0.9),(5.45,1.2),(5.55,1.8),(5.62,2.6),(5.7,2.2),(5.78,1.2),(5.86,0.7),(5.96,0.5),(6.1,0.4),(6.3,0.35),(6.5,0.3),(6.7,0.35),(6.9,0.3),(7.1,0.3),(7.3,0.35),(7.5,0.3),(7.7,0.25),(7.9,0.2),(8.1,0.1),(8.3,0),(10,0)]

X_TICKS = [-10, -5, 0, 5, 10]
PANEL_LABELS = ["(a)", "(b)", "(c)", "(d)", "(e)", "(f)"]

# ---------------- styling ----------------
FONT = "Liberation Serif"
FRAME = "#4d4d4d"
W, H = 677, 673

def px_x(p):
    return p / W

def px_y(p):
    return 1 - p / H

LEFT = [px_x(48.3), px_x(340)]
RIGHT = [px_x(377), px_x(669.7)]
ROWS = [[px_y(207), px_y(5)], [px_y(417.5), px_y(217)], [px_y(629), px_y(428.5)]]

panels = [
    # (axis index, column domain, row, series list, y range, dtick)
    (1, LEFT, 0, [("Al-MMT", AL_MMT, "#F2A25C"), ("Al-Hybrid", AL_HYBRID, "#9B10C8")], [-0.25, 7], 1),
    (2, LEFT, 1, [("O-MMT", O_MMT, "#B3BFF2"), ("O-Hybrid", O_HYBRID, "#E8383A")], [-6, 140], 20),
    (3, LEFT, 2, [("Si-MMT", SI_MMT, "#EE9CF2"), ("Si-Hybrid", SI_HYBRID, "#7A3A10")], [-0.55, 18], 2),
    (4, RIGHT, 0, [("H-MMT", H_MMT, "#8899EE"), ("H-VC", H_VC, "#F26EB4"), ("H-Hybrid", H_HYBRID, "#1428B0")], [-0.57, 16], 2),
    (5, RIGHT, 1, [("C-VC", C_VC, "#8A8A8A"), ("C-Hybrid", C_HYBRID, "#F27A12")], [-0.37, 10.26], 2),
    (6, RIGHT, 2, [("Cl-VC", CL_VC, "#4A4A4A"), ("Cl-Hybrid", CL_HYBRID, "#F03A3A")], [-0.77, 30], 5),
]

fig = go.Figure()
layout = dict(
    width=W, height=H,
    margin=dict(l=0, r=0, t=0, b=0, autoexpand=False),
    paper_bgcolor="white", plot_bgcolor="white",
    font=dict(family=FONT, color="black"),
    showlegend=True,
)
annotations = []
shapes = []

legend_top_px = {1: 7, 2: 215, 3: 427, 4: 7, 5: 220, 6: 430}

for idx, dom, row, series, yr, dt in panels:
    sfx = "" if idx == 1 else str(idx)
    lg = "legend" if idx == 1 else f"legend{idx}"
    for name, pts, col in series:
        fig.add_trace(go.Scatter(
            x=[p[0] for p in pts], y=[p[1] for p in pts],
            mode="lines", name=name,
            line=dict(color=col, width=1.5),
            xaxis="x" + sfx, yaxis="y" + sfx, legend=lg,
        ))
    bottom = row == 2
    xr = [-12.4, 10] if dom is LEFT else [-13.66, 10]
    xa = dict(domain=dom, range=xr, anchor="y" + sfx,
              showline=True, linecolor=FRAME, linewidth=1.3, mirror=True,
              showgrid=False, zeroline=False)
    if bottom:
        xa.update(tickvals=X_TICKS, ticks="outside", ticklen=4, tickwidth=1.2, tickcolor=FRAME,
                  tickfont=dict(family=FONT, size=12.5, color="black", weight="bold"),
                  title=dict(text="Energy (eV)", standoff=6,
                             font=dict(family=FONT, size=16, color="black", weight="bold")))
    else:
        xa.update(showticklabels=False, ticks="")
        base = 3 if dom is LEFT else 6
        xa["matches"] = "x" + str(base)
    ya = dict(domain=ROWS[row], range=yr, anchor="x" + sfx, dtick=dt, tick0=0,
              showline=True, linecolor=FRAME, linewidth=1.3, mirror=True,
              showgrid=False, zeroline=False,
              ticks="outside", ticklen=4, tickwidth=1.2, tickcolor=FRAME,
              tickfont=dict(family=FONT, size=12.5, color="black", weight="bold"))
    if row == 1:
        ya["title"] = dict(text="Density of States", standoff=4,
                           font=dict(family=FONT, size=16, color="black", weight="bold"))
    layout["xaxis" + sfx] = xa
    layout["yaxis" + sfx] = ya
    # legend
    xr_px = 337 if dom is LEFT else 667
    layout[lg] = dict(x=px_x(xr_px), y=px_y(legend_top_px[idx]), xanchor="right", yanchor="top",
                      bgcolor="rgba(0,0,0,0)", borderwidth=0, tracegroupgap=0,
                      font=dict(family=FONT, size=11.5, color="#222"))
    # panel label
    annotations.append(dict(text="<b>" + PANEL_LABELS[idx - 1] + "</b>", xref="x" + sfx + " domain",
                            yref="y" + sfx + " domain", x=0.02, y=0.915, xanchor="left",
                            yanchor="middle", showarrow=False,
                            font=dict(family=FONT, size=14, color="black")))

# Fermi level dashed line spanning each column
for xref in ("x3", "x6"):
    shapes.append(dict(type="line", xref=xref, yref="paper", x0=0, x1=0,
                       y0=ROWS[2][0], y1=ROWS[0][1],
                       line=dict(color="#2A7A5A", width=2, dash="7px,4px"), layer="above"))

layout["annotations"] = annotations
layout["shapes"] = shapes
fig.update_layout(**layout)
fig.write_html("out.html")
